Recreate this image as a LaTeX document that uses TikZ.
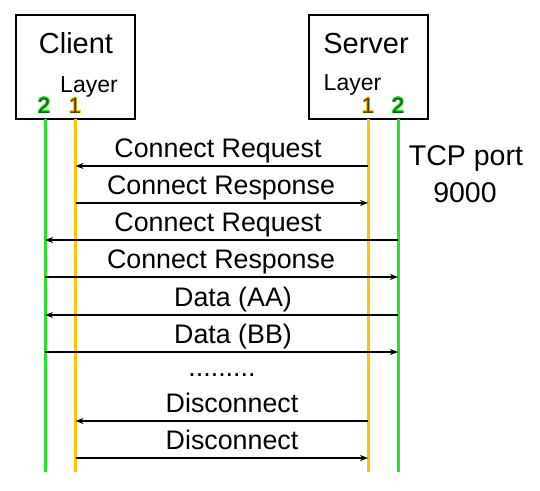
\documentclass[tikz,border=0pt]{standalone}
\usepackage{fontspec}
\setmainfont{Liberation Sans}
\usepackage[copies]{contour}
\usetikzlibrary{arrows.meta}
\definecolor{lgreen}{RGB}{34,230,34}
\definecolor{lyellow}{RGB}{255,196,0}
\definecolor{dgreen}{RGB}{20,90,20}
\definecolor{dolive}{RGB}{80,64,0}
\contourlength{0.8pt}
\tikzset{
  box/.style={draw=black, line width=2pt, minimum width=119pt, minimum height=104pt, inner sep=0pt},
  title/.style={font=\fontsize{29}{34}\selectfont, anchor=base, inner sep=0pt},
  layer/.style={font=\fontsize{23}{27}\selectfont, anchor=base, inner sep=0pt},
  digit/.style={font=\fontsize{22}{26}\selectfont, anchor=base, inner sep=0pt},
  lab/.style={font=\fontsize{26.8}{31}\selectfont, anchor=base, inner sep=0pt},
  gline/.style={draw=lgreen, line width=3pt},
  yline/.style={draw=lyellow, line width=3pt},
  msg/.style={draw=black, line width=1.2pt, -{Stealth[length=8pt,width=6pt,inset=2.5pt]}},
}
\begin{document}
\begin{tikzpicture}[x=1pt,y=-1pt]
\useasboundingbox (0,0) rectangle (540,490);
\fill[white] (0,0) rectangle (540,490);
% boxes
\node[box] (client) at (75.5,67) {};
\node[box] (server) at (368,67) {};
\node[title] (clientt) at (76,53) {Client};
\node[title] (servert) at (366,53) {Server};
\node[layer] (clientl) at (89,92) {Layer};
\node[layer] (serverl) at (352.5,90) {Layer};
\node[digit] (c2) at (44,113) {\contour{lgreen}{\textcolor{dgreen}{2}}};
\node[digit] (c1) at (75,113) {\contour{lyellow}{\textcolor{dolive}{1}}};
\node[digit] (s1) at (368,113) {\contour{lyellow}{\textcolor{dolive}{1}}};
\node[digit] (s2) at (398,113) {\contour{lgreen}{\textcolor{dgreen}{2}}};
% lifelines
\coordinate (L2c) at (45,119);
\coordinate (L1c) at (75.5,119);
\coordinate (L1s) at (368,119);
\coordinate (L2s) at (398,119);
\draw[gline] (L2c) -- (L2c |- 0,472);
\draw[yline] (L1c) -- (L1c |- 0,472);
\draw[yline] (L1s) -- (L1s |- 0,472);
\draw[gline] (L2s) -- (L2s |- 0,472);
% TCP port
\node[lab, font=\fontsize{28.5}{33}\selectfont] (tcp1) at (466,165) {TCP port};
\node[lab, font=\fontsize{28.5}{33}\selectfont] (tcp2) at (465,202) {9000};
% messages
\draw[msg] (L1s |- 0,166) -- (L1c |- 0,166);
\node[lab] (m1) at (218,157) {Connect Request};
\draw[msg] (L1c |- 0,203) -- (L1s |- 0,203);
\node[lab] (m2) at (221,194) {Connect Response};
\draw[msg] (L2s |- 0,240) -- (L2c |- 0,240);
\node[lab] (m3) at (218,231) {Connect Request};
\draw[msg] (L2c |- 0,277) -- (L2s |- 0,277);
\node[lab] (m4) at (221,268) {Connect Response};
\draw[msg] (L2s |- 0,315) -- (L2c |- 0,315);
\node[lab] (m5) at (233,306) {Data (AA)};
\draw[msg] (L2c |- 0,352) -- (L2s |- 0,352);
\node[lab] (m6) at (233,343) {Data (BB)};
\node[lab] (dots) at (222,376) {.........};
\draw[msg] (L1s |- 0,421) -- (L1c |- 0,421);
\node[lab] (m7) at (232,412) {Disconnect};
\draw[msg] (L1c |- 0,458) -- (L1s |- 0,458);
\node[lab] (m8) at (232,449) {Disconnect};
\end{tikzpicture}
\end{document}
